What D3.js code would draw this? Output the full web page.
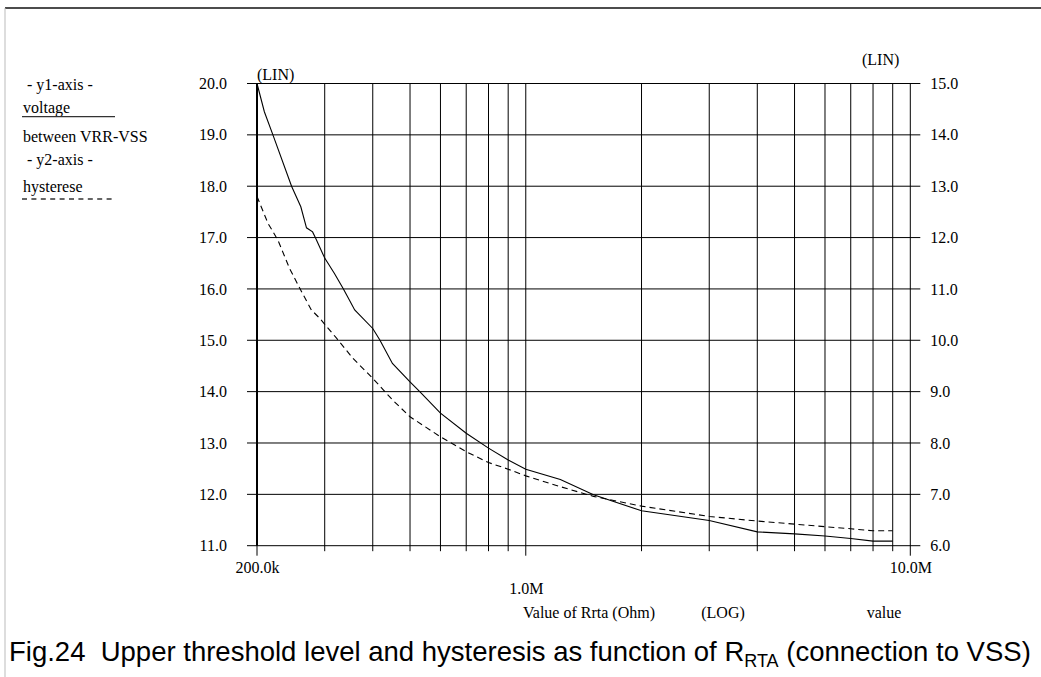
<!DOCTYPE html>
<html>
<head>
<meta charset="utf-8">
<script src="https://cdn.jsdelivr.net/npm/d3@7"></script>
<style>
  html, body { margin: 0; padding: 0; background: #fff; }
  svg { display: block; }
  .serif { font-family: "Liberation Serif", "Times New Roman", serif; font-size: 16px; fill: #000; }
  .caption { font-family: "Liberation Sans", Arial, sans-serif; font-size: 27.5px; fill: #000; }
</style>
</head>
<body>
<svg id="chart" width="1041" height="677"></svg>
<script>
// Threshold voltage VRR-VSS (y1) versus Rrta
const rVoltage = [200e3, 209e3, 220e3, 246e3, 260e3, 269e3, 279e3, 284e3, 300e3, 318e3, 335e3, 348e3, 359e3,
                  400e3, 417e3, 450e3, 500e3, 530e3, 600e3, 700e3, 800e3, 900e3, 1e6, 1.23e6, 1.5e6,
                  2e6, 3e6, 4e6, 5e6, 6e6, 7e6, 8e6, 9e6];
const voltage = [20.0, 19.45, 19.0, 18.0, 17.6, 17.19, 17.11, 16.99, 16.6, 16.3, 16.01, 15.78, 15.59,
                 15.23, 15.01, 14.55, 14.19, 14.0, 13.58, 13.19, 12.9, 12.67, 12.49, 12.29, 11.99,
                 11.68, 11.49, 11.27, 11.23, 11.19, 11.14, 11.09, 11.09];

// Hysteresis (y2) versus Rrta
const rHysteresis = [200e3, 213.5e3, 226.7e3, 243e3, 261e3, 277e3, 291e3, 322e3, 355e3, 400e3, 450e3,
                     500e3, 600e3, 700e3, 800e3, 900e3, 1e6, 1.23e6, 1.5e6, 2e6, 3e6, 4e6, 5e6, 6e6,
                     7e6, 8e6, 9e6];
const hysteresis = [12.8, 12.28, 11.95, 11.4, 10.95, 10.59, 10.43, 10.04, 9.65, 9.26, 8.84,
                    8.51, 8.12, 7.83, 7.62, 7.49, 7.36, 7.15, 6.96, 6.77, 6.57, 6.48, 6.42, 6.37,
                    6.33, 6.29, 6.29];

// Axis ticks
const y1Ticks = [11, 12, 13, 14, 15, 16, 17, 18, 19, 20];
const y2Ticks = [6, 7, 8, 9, 10, 11, 12, 13, 14, 15];
const xGrid = [200e3, 300e3, 400e3, 500e3, 600e3, 700e3, 800e3, 900e3,
               1e6, 2e6, 3e6, 4e6, 5e6, 6e6, 7e6, 8e6, 9e6, 10e6];
const xMajor = [200e3, 1e6, 10e6];
const xMajorLabels = ["200.0k", "1.0M", "10.0M"];

const svg = d3.select("#chart");

// Page frame
svg.append("line").attr("x1", 5).attr("x2", 1041).attr("y1", 8).attr("y2", 8)
  .attr("stroke", "#111").attr("stroke-width", 1.7);
svg.append("line").attr("x1", 5).attr("x2", 5).attr("y1", 8).attr("y2", 677)
  .attr("stroke", "#bbb").attr("stroke-width", 1);

const plotLeft = 257, plotRight = 910.3, plotTop = 83.5, plotBottom = 545.7;

const x = d3.scaleLog().domain([200e3, 10e6]).range([plotLeft, plotRight]);
const y1 = d3.scaleLinear().domain([11, 20]).range([plotBottom, plotTop]);
const y2 = d3.scaleLinear().domain([6, 15]).range([plotBottom, plotTop]);

const fmt = d3.format(".1f");

// Horizontal grid (one line per y1 tick, spanning past both axes)
svg.append("g").selectAll("line").data(y1Ticks).join("line")
  .attr("x1", plotLeft - 10).attr("x2", plotRight + 10)
  .attr("y1", d => y1(d)).attr("y2", d => y1(d))
  .attr("stroke", "#000").attr("stroke-width", 1);

// Vertical grid lines, with tick stubs below the plot
svg.append("g").selectAll("line").data(xGrid).join("line")
  .attr("x1", d => x(d)).attr("x2", d => x(d))
  .attr("y1", plotTop)
  .attr("y2", d => xMajor.includes(d) ? plotBottom + 10 : plotBottom + 5.5)
  .attr("stroke", "#000").attr("stroke-width", 1);

// Heavier left axis line
svg.append("line").attr("x1", plotLeft).attr("x2", plotLeft).attr("y1", plotTop).attr("y2", plotBottom)
  .attr("stroke", "#000").attr("stroke-width", 2);

// Left (y1) axis labels
const yAxisL = svg.append("g").attr("transform", `translate(${plotLeft},0)`)
  .call(d3.axisLeft(y1).tickValues(y1Ticks).tickFormat(fmt).tickSize(0).tickPadding(30));
// Right (y2) axis labels
const yAxisR = svg.append("g").attr("transform", `translate(${plotRight},0)`)
  .call(d3.axisRight(y2).tickValues(y2Ticks).tickFormat(fmt).tickSize(0).tickPadding(20));
// Bottom axis labels
const xAxis = svg.append("g").attr("transform", `translate(0,${plotBottom})`)
  .call(d3.axisBottom(x).tickValues(xMajor).tickFormat((d, i) => xMajorLabels[i]).tickSize(0).tickPadding(16));

[yAxisL, yAxisR, xAxis].forEach(g => {
  g.select(".domain").remove();
  g.attr("font-size", null).attr("font-family", null);
  g.selectAll("text").attr("class", "serif");
});
// 1.0M sits one row lower
xAxis.selectAll(".tick text").filter(d => d === 1e6).attr("y", 37);

// Curves
const lineV = d3.line().x((d, i) => x(rVoltage[i])).y(d => y1(d));
const lineH = d3.line().x((d, i) => x(rHysteresis[i])).y(d => y2(d));

svg.append("path").datum(voltage).attr("d", lineV)
  .attr("fill", "none").attr("stroke", "#000").attr("stroke-width", 1.1);
svg.append("path").datum(hysteresis).attr("d", lineH)
  .attr("fill", "none").attr("stroke", "#000").attr("stroke-width", 1.1)
  .attr("stroke-dasharray", "6,4");

// Scale-type annotations
svg.append("text").attr("class", "serif").attr("x", plotLeft).attr("y", 80).text("(LIN)");
svg.append("text").attr("class", "serif").attr("x", 862).attr("y", 65).text("(LIN)");

// Axis titles along the bottom
svg.append("text").attr("class", "serif").attr("x", 589).attr("y", 618)
  .attr("text-anchor", "middle").text("Value of Rrta (Ohm)");
svg.append("text").attr("class", "serif").attr("x", 723).attr("y", 618)
  .attr("text-anchor", "middle").text("(LOG)");
svg.append("text").attr("class", "serif").attr("x", 884).attr("y", 618)
  .attr("text-anchor", "middle").text("value");

// Legend block on the left
const legend = [
  { t: " - y1-axis -", y: 90 },
  { t: "voltage", y: 113 },
  { t: "between VRR-VSS", y: 142 },
  { t: " - y2-axis -", y: 165 },
  { t: "hysterese", y: 192 }
];
svg.append("g").selectAll("text").data(legend).join("text")
  .attr("class", "serif").attr("x", 23).attr("y", d => d.y)
  .style("white-space", "pre").text(d => d.t);
svg.append("line").attr("x1", 22).attr("x2", 115).attr("y1", 116.7).attr("y2", 116.7)
  .attr("stroke", "#333").attr("stroke-width", 1.3);
svg.append("line").attr("x1", 22).attr("x2", 115).attr("y1", 199).attr("y2", 199)
  .attr("stroke", "#333").attr("stroke-width", 1.3).attr("stroke-dasharray", "5,4.4");

// Figure caption
const cap = svg.append("text").attr("class", "caption").attr("x", 9).attr("y", 661)
  .style("white-space", "pre");
cap.append("tspan").text("Fig.24  Upper threshold level and hysteresis as function of R");
cap.append("tspan").attr("dy", 6).attr("font-size", 18).text("RTA");
cap.append("tspan").attr("dy", -6).text(" (connection to VSS)");
</script>
</body>
</html>
